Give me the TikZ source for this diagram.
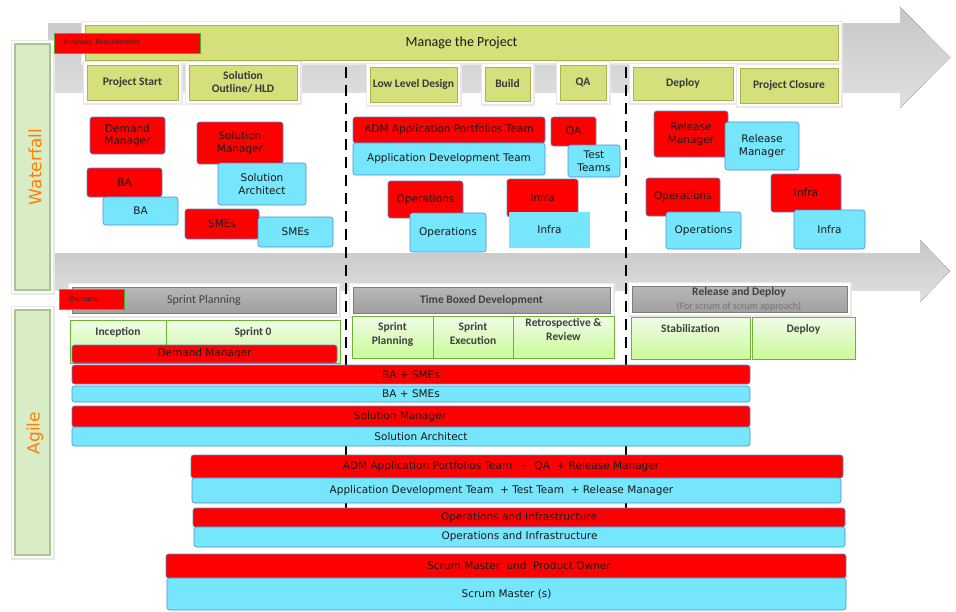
\documentclass[tikz,border=0pt]{standalone}
\usepackage{fontspec}
\setmainfont{DejaVu Sans}
\newfontfamily\calfont{Carlito}

\definecolor{rolered}{RGB}{255,0,0}
\definecolor{rolecyan}{RGB}{117,230,251}
\definecolor{cyanedge}{RGB}{79,143,214}
\definecolor{olivefill}{RGB}{213,224,125}
\definecolor{oliveedge}{RGB}{168,180,76}
\definecolor{hdrgray}{RGB}{160,160,160}
\definecolor{hdredge}{RGB}{125,125,125}
\definecolor{phasetop}{RGB}{240,252,232}
\definecolor{phasebot}{RGB}{202,250,152}
\definecolor{phaseedge}{RGB}{110,180,50}
\definecolor{sidefill}{RGB}{216,236,198}
\definecolor{sideedge}{RGB}{170,198,140}
\definecolor{labelorange}{RGB}{255,128,0}
\definecolor{tagedge}{RGB}{80,170,50}

% box from its top-left corner (x1,y1) to bottom-right corner (x2,y2)
\newcommand\placebox[7]{%
  \node[#1,anchor=north west,minimum width={(#5-#3)*1pt},
        minimum height={(#6-#4)*1pt}] (#2) at (#3,#4) {#7};}

\begin{document}
\begin{tikzpicture}[x=1pt,y=-1pt,
  every node/.style={inner sep=0pt,outer sep=0pt,align=center},
  role/.style={rounded corners=2.5pt,draw=cyanedge,line width=0.6pt,
    font=\fontsize{10.5}{12.5}\selectfont,text=black!90},
  redrole/.style={role,fill=rolered},
  cyanrole/.style={role,fill=rolecyan},
  flatcyan/.style={fill=rolecyan,font=\fontsize{10.5}{12.5}\selectfont,text=black!90},
  framed/.style={preaction={draw=black!9,line width=9pt},
    preaction={draw=white,line width=6pt}},
  olivebox/.style={framed,fill=olivefill,draw=oliveedge,line width=1pt,
    font=\calfont\bfseries\fontsize{11.5}{13}\selectfont,text=black!78},
  hdrbox/.style={framed,top color=hdrgray!75,bottom color=hdrgray,draw=hdredge,
    line width=0.8pt,font=\calfont\bfseries\fontsize{11.5}{13}\selectfont,text=black!75},
  phasebox/.style={top color=phasetop,bottom color=phasebot,draw=phaseedge,line width=0.8pt},
  phaselabel/.style={font=\calfont\bfseries\fontsize{11.5}{14.5}\selectfont,text=black!75},
  tagbox/.style={fill=rolered,draw=tagedge,line width=1pt},
  sidebox/.style={framed,fill=sidefill,draw=sideedge,line width=1.5pt},
  sidelabel/.style={rotate=90,text=labelorange,font=\fontsize{17}{17}\selectfont},
  flow/.style={top color=black!22,bottom color=black!12},
  divider/.style={draw=black,line width=2.2pt,dash pattern=on 11pt off 7pt},
]
\useasboundingbox (0,0) rectangle (956,611);
\fill[white] (0,0) rectangle (956,611);

% phase arrows
\fill[flow] (48,23) -- (900,23) -- (900,7) -- (950,57.5) -- (900,108) -- (900,92) -- (48,92) -- cycle;
\fill[flow] (48,253) -- (920,253) -- (920,240) -- (950,271) -- (920,302) -- (920,290) -- (48,290) -- cycle;

% stage dividers
\coordinate (dA1) at (346,67);
\coordinate (dA2) at (346,548);
\coordinate (dB1) at (626,67);
\coordinate (dB2) at (626,548);
\draw[divider] (dA1) -- (dA2);
\draw[divider] (dB1) -- (dB2);

% method bands
\placebox{sidebox}{wfBox}{15}{44}{50}{290}{}
\placebox{sidebox}{agBox}{15}{310}{50}{555}{}
\node[sidelabel] (wfText) at (35,167) {Waterfall};
\node[sidelabel] (agText) at (35,433) {Agile};

% waterfall stages
\placebox{olivebox}{mgB}{85}{25}{838}{60}{\mdseries\fontsize{14}{16}\selectfont\color{black!90}Manage the Project}
\placebox{tagbox}{brTag}{54}{33}{200}{53}{}
\node[anchor=west,font=\fontsize{6.3}{7}\selectfont,text=black!85] (brText) at ([xshift=10pt]brTag.west) {Business\ \ Requirements};
\placebox{olivebox}{psB}{87}{65}{178}{100}{Project Start}
\placebox{olivebox}{soB}{189}{65}{297}{100}{Solution\\Outline/ HLD}
\placebox{olivebox}{lldB}{370}{67}{457}{102}{Low Level Design}
\placebox{olivebox}{bldB}{485}{67}{530}{101}{Build}
\placebox{olivebox}{qaB}{560}{65}{606}{100}{QA}
\placebox{olivebox}{depB}{633}{67}{733}{100}{Deploy}
\placebox{olivebox}{pcB}{740}{68}{838}{103}{Project Closure}

% waterfall roles
\placebox{redrole}{dmR}{90}{117}{165}{154}{Demand\\Manager}
\placebox{redrole}{smR}{197}{122}{283}{164}{Solution\\Manager}
\placebox{redrole}{baR}{87}{168}{162}{197}{BA}
\placebox{redrole}{smeR}{185}{209}{259}{239}{SMEs}
\placebox{redrole}{admR}{353}{117}{545}{143}{ADM Application Portfolios Team}
\placebox{redrole}{qaR}{551}{117}{596}{146}{QA}
\placebox{redrole}{opR}{388}{181}{463}{218}{Operations}
\placebox{redrole}{infR}{507}{179}{578}{217}{Infra}
\placebox{redrole}{relR}{654}{111}{728}{157}{Release\\Manager}
\placebox{redrole}{opTwoR}{646}{178}{720}{216}{Operations}
\placebox{redrole}{infTwoR}{771}{174}{841}{212}{Infra}

\placebox{cyanrole}{saC}{218}{163}{306}{205}{Solution\\Architect}
\placebox{cyanrole}{baC}{103}{197}{178}{225}{BA}
\placebox{cyanrole}{smeC}{258}{217}{333}{247}{SMEs}
\placebox{cyanrole}{adtC}{353}{143}{545}{175}{Application Development Team}
\placebox{cyanrole}{ttC}{568}{145}{620}{177}{Test\\Teams}
\placebox{cyanrole}{opC}{410}{213}{486}{252}{Operations}
\placebox{flatcyan}{infC}{509}{212}{590}{248}{Infra}
\placebox{cyanrole}{relC}{725}{122}{799}{170}{Release\\Manager}
\placebox{cyanrole}{opTwoC}{666}{212}{741}{249}{Operations}
\placebox{cyanrole}{infTwoC}{794}{210}{865}{249}{Infra}

% agile stages
\placebox{hdrbox}{spH}{72}{287}{336}{313}{\mdseries\fontsize{12}{13}\selectfont Sprint Planning}
\placebox{tagbox}{dmTag}{59}{289}{124}{309}{}
\node[anchor=west,font=\fontsize{7}{8}\selectfont,text=black!85] (dmText) at ([xshift=10pt]dmTag.west) {Demand};
\placebox{hdrbox}{tbH}{353}{287}{610}{313}{Time Boxed Development}
\placebox{hdrbox}{rdH}{632}{286}{847}{312}{}
\node[font=\calfont\bfseries\fontsize{11.5}{13}\selectfont,text=black!75] (rdTitle) at (739,292) {Release and Deploy};
\node[font=\calfont\fontsize{10}{11}\selectfont,text=black!55] (rdSub) at (739,307) {(For scrum of scrum approach)};

\placebox{phasebox}{incB}{70}{320}{166}{363}{}
\placebox{phasebox}{sZeroB}{166}{320}{340}{363}{}
\placebox{phasebox}{spB}{352}{316}{433}{358}{}
\placebox{phasebox}{seB}{433}{316}{513}{358}{}
\placebox{phasebox}{rrB}{513}{316}{614}{358}{}
\placebox{phasebox}{stB}{631}{317}{750}{359}{}
\placebox{phasebox}{dpB}{752}{317}{855}{359}{}
\node[phaselabel,anchor=north] (incL) at ([yshift=-7pt]incB.north) {Inception};
\node[phaselabel,anchor=north] (sZeroL) at ([yshift=-7pt]sZeroB.north) {Sprint 0};
\node[phaselabel,anchor=north] (spL) at ([yshift=-6pt]spB.north) {Sprint\\Planning};
\node[phaselabel,anchor=north] (seL) at ([yshift=-6pt]seB.north) {Sprint\\Execution};
\node[phaselabel,anchor=north] (rrL) at ([yshift=-2pt]rrB.north) {Retrospective \&\\Review};
\node[phaselabel,anchor=north] (stL) at ([yshift=-7pt]stB.north) {Stabilization};
\node[phaselabel,anchor=north] (dpL) at ([yshift=-7pt]dpB.north) {Deploy};

% agile roles
\placebox{redrole}{dmBar}{72}{345}{337}{363}{Demand Manager}
\placebox{redrole}{baBarR}{72}{365}{750}{384}{BA + SMEs}
\placebox{cyanrole}{baBarC}{72}{386}{750}{402}{BA + SMEs}
\placebox{redrole}{solBarR}{72}{406}{750}{427}{Solution Manager\hspace*{22pt}}
\placebox{cyanrole}{solBarC}{72}{427}{750}{446}{\hspace*{20pt}Solution Architect}
\placebox{redrole}{admBar}{191}{455}{843}{478}{ADM Application Portfolios Team \ +\ \ QA \ + Release Manager\hspace*{32pt}}
\placebox{cyanrole}{adtBar}{192}{478}{841}{503}{Application Development Team \ + Test Team \ + Release Manager\hspace*{30pt}}
\placebox{redrole}{opsBarR}{193}{508}{845}{527}{Operations and Infrastructure}
\placebox{cyanrole}{opsBarC}{194}{527}{845}{547}{Operations and Infrastructure}
\placebox{redrole}{scrBarR}{166}{554}{846}{578}{\hspace*{26pt}Scrum Master \ and \ Product Owner}
\placebox{cyanrole}{scrBarC}{167}{578}{846}{610}{Scrum Master (s)}
\end{tikzpicture}
\end{document}
